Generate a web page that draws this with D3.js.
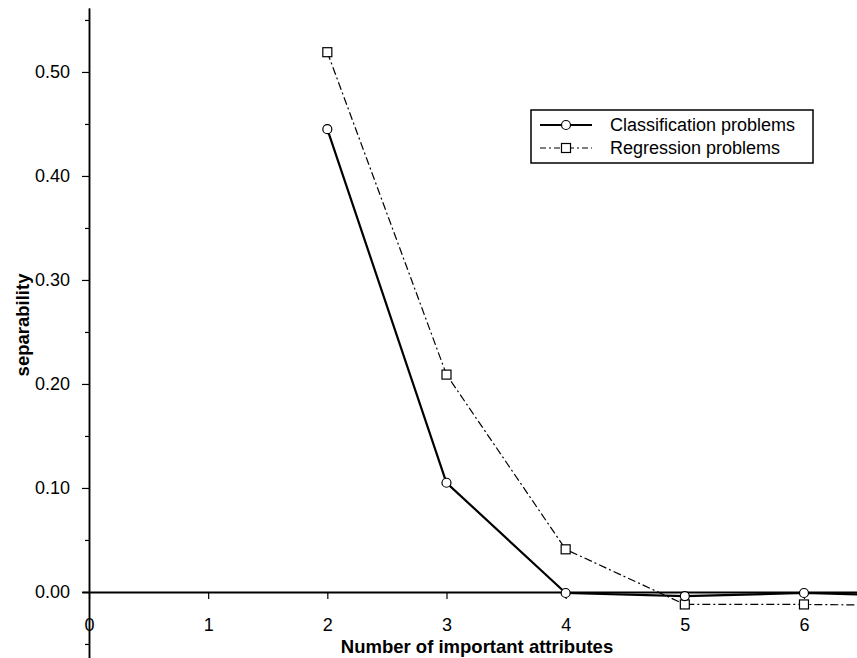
<!DOCTYPE html>
<html>
<head>
<meta charset="utf-8">
<script src="https://cdn.jsdelivr.net/npm/d3@7"></script>
<style>
  html, body { margin: 0; padding: 0; background: #fff; }
  svg { display: block; font-family: "Liberation Sans", Arial, Helvetica, sans-serif; }
</style>
</head>
<body>
<svg id="chart" width="857" height="658"></svg>
<script>
// ---- data ----
const attributes = [2, 3, 4, 5, 6, 7];
const classification = [0.445, 0.105, -0.001, -0.004, -0.001, -0.004];
const regression = [0.519, 0.209, 0.041, -0.012, -0.012, -0.013];
const seriesNames = ["Classification problems", "Regression problems"];
const xTicks = [0, 1, 2, 3, 4, 5, 6];
const yMajorTicks = [0.0, 0.1, 0.2, 0.3, 0.4, 0.5];
const yMinorTicks = [-0.05, 0.05, 0.15, 0.25, 0.35, 0.45, 0.55];
const xTitle = "Number of important attributes";
const yTitle = "separability";

// ---- layout ----
const svg = d3.select("#chart");
const x = d3.scaleLinear().domain([-0.06, 6.45]).range([81.85, 857.6]);
const y = d3.scaleLinear().domain([-0.0635, 0.5615]).range([658, 8]);
const FONT = 18;

// y axis minor ticks
svg.append("g")
  .attr("transform", `translate(${x(0)},0)`)
  .call(d3.axisLeft(y).tickValues(yMinorTicks).tickSize(4).tickSizeOuter(0).tickFormat(""))
  .call(g => g.select(".domain").attr("stroke-width", 1.5))
  .call(g => g.selectAll(".tick line").attr("stroke-width", 1.2));

// y axis major ticks
svg.append("g")
  .attr("transform", `translate(${x(0)},0)`)
  .call(d3.axisLeft(y).tickValues(yMajorTicks).tickSize(7).tickSizeOuter(0)
        .tickFormat(d3.format(".2f")).tickPadding(12))
  .call(g => g.select(".domain").attr("stroke-width", 1.5))
  .call(g => g.selectAll(".tick line").attr("stroke-width", 1.2))
  .call(g => g.selectAll(".tick text")
      .attr("font-size", FONT).attr("font-family", null).attr("fill", "#000"));

// x axis at y = 0
svg.append("g")
  .attr("transform", `translate(0,${y(0)})`)
  .call(d3.axisBottom(x).tickValues(xTicks).tickSize(7).tickSizeOuter(0)
        .tickFormat(d3.format("d")).tickPadding(19))
  .call(g => g.select(".domain").attr("stroke-width", 2))
  .call(g => g.selectAll(".tick line").attr("stroke-width", 1.2))
  .call(g => g.selectAll(".tick text")
      .attr("font-size", FONT).attr("font-family", null).attr("fill", "#000"));

// axis titles
svg.append("text")
  .attr("x", 477).attr("y", 653)
  .attr("text-anchor", "middle")
  .attr("font-size", 18.5).attr("font-weight", "bold")
  .text(xTitle);

svg.append("text")
  .attr("transform", `translate(29,325) rotate(-90)`)
  .attr("text-anchor", "middle")
  .attr("font-size", 18.5).attr("font-weight", "bold")
  .text(yTitle);

// ---- series ----
const clsData = attributes.map((a, i) => [a, classification[i]]);
const regData = attributes.map((a, i) => [a, regression[i]]);
const line = d3.line().x(d => x(d[0])).y(d => y(d[1]));

svg.append("path")
  .datum(regData)
  .attr("d", line)
  .attr("fill", "none").attr("stroke", "#000")
  .attr("stroke-width", 1.2)
  .attr("stroke-dasharray", "8,3,2,3");

svg.append("path")
  .datum(clsData)
  .attr("d", line)
  .attr("fill", "none").attr("stroke", "#000")
  .attr("stroke-width", 2.2);

const sq = 9;
svg.selectAll("rect.reg")
  .data(regData).enter().append("rect")
  .attr("class", "reg")
  .attr("x", d => x(d[0]) - sq / 2).attr("y", d => y(d[1]) - sq / 2)
  .attr("width", sq).attr("height", sq)
  .attr("fill", "#fff").attr("stroke", "#000").attr("stroke-width", 1.2);

svg.selectAll("circle.cls")
  .data(clsData).enter().append("circle")
  .attr("class", "cls")
  .attr("cx", d => x(d[0])).attr("cy", d => y(d[1]))
  .attr("r", 4.5)
  .attr("fill", "#fff").attr("stroke", "#000").attr("stroke-width", 1.2);

// ---- legend ----
const lg = svg.append("g").attr("transform", "translate(531,110)");
lg.append("rect")
  .attr("x", 0).attr("y", 0).attr("width", 282).attr("height", 53)
  .attr("fill", "#fff").attr("stroke", "#000").attr("stroke-width", 1.5);

// row 1: classification
lg.append("line").attr("x1", 9).attr("x2", 61).attr("y1", 15).attr("y2", 15)
  .attr("stroke", "#000").attr("stroke-width", 2.2);
lg.append("circle").attr("cx", 35).attr("cy", 15).attr("r", 4.5)
  .attr("fill", "#fff").attr("stroke", "#000").attr("stroke-width", 1.2);
lg.append("text").attr("x", 79).attr("y", 21).attr("font-size", FONT).text(seriesNames[0]);

// row 2: regression
lg.append("line").attr("x1", 9).attr("x2", 61).attr("y1", 38).attr("y2", 38)
  .attr("stroke", "#000").attr("stroke-width", 1.2).attr("stroke-dasharray", "6,3,2,3");
lg.append("rect").attr("x", 35 - sq / 2).attr("y", 38 - sq / 2).attr("width", sq).attr("height", sq)
  .attr("fill", "#fff").attr("stroke", "#000").attr("stroke-width", 1.2);
lg.append("text").attr("x", 79).attr("y", 44).attr("font-size", FONT).text(seriesNames[1]);
</script>
</body>
</html>
